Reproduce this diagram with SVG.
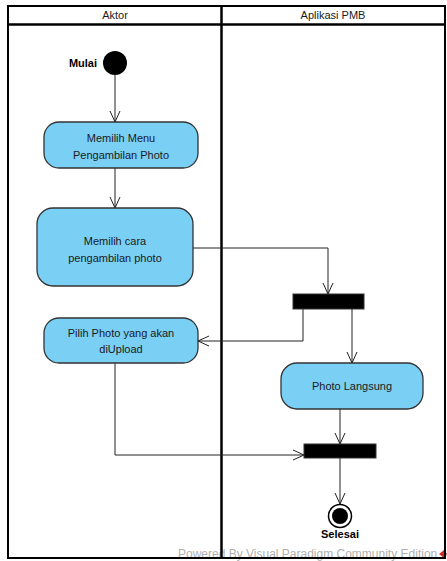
<svg xmlns="http://www.w3.org/2000/svg" width="447" height="561" viewBox="0 0 447 561">
<defs>
<marker id="arr" viewBox="0 0 12 12" refX="11" refY="6" markerWidth="12" markerHeight="12" markerUnits="userSpaceOnUse" orient="auto">
<path d="M0,1 L11,6 L0,11" fill="none" stroke="#222" stroke-width="1"/>
</marker>
<style>
.act{fill:#7ACFF5;stroke:#333;stroke-width:1.3}
.txt{font-family:"Liberation Sans",Arial,sans-serif;font-size:11px;fill:#1a1a1a;text-anchor:middle}
.bold{font-family:"Liberation Sans",Arial,sans-serif;font-size:11px;font-weight:bold;fill:#000}
.bar{fill:#000;stroke:#333}
.edge{fill:none;stroke:#222;stroke-width:1;marker-end:url(#arr)}
</style>
</defs>
<rect width="447" height="561" fill="#fff"/>
<text x="178" y="558" font-family="Liberation Sans,Arial,sans-serif" font-size="12" fill="#b0b0b0">Powered By  Visual Paradigm Community Edition</text>
<path d="M439,554 l5,-4 l3,4 l-3,4z" fill="#d9262b"/>
<g id="swimlanes" fill="none" stroke="#000">
<rect x="8" y="6" width="437" height="552" stroke-width="2"/>
<line x1="8" y1="24.5" x2="445" y2="24.5" stroke-width="2.5"/>
<line x1="221.5" y1="6" x2="221.5" y2="558" stroke-width="2.5"/>
</g>
<text class="txt" x="115" y="19">Aktor</text>
<text class="txt" x="333" y="19">Aplikasi PMB</text>
<g id="connectors">
<line class="edge" x1="115" y1="75" x2="115" y2="122"/>
<line class="edge" x1="115" y1="168" x2="115" y2="208"/>
<polyline class="edge" points="193,248 328,248 328,294"/>
<polyline class="edge" points="303,309 303,341 198,341"/>
<line class="edge" x1="352" y1="309" x2="352" y2="363"/>
<line class="edge" x1="340" y1="409" x2="340" y2="444"/>
<polyline class="edge" points="115,363 115,455 304,455"/>
<line class="edge" x1="340" y1="458" x2="340" y2="504"/>
</g>
<g id="start">
<circle cx="115" cy="63" r="12" fill="#000"/>
<text class="bold" x="97" y="67" text-anchor="end">Mulai</text>
</g>
<g id="memilih-menu">
<rect class="act" x="44" y="122" width="154" height="46" rx="15"/>
<text class="txt" x="121" y="142">Memilih Menu</text>
<text class="txt" x="121" y="159">Pengambilan Photo</text>
</g>
<g id="memilih-cara">
<rect class="act" x="37" y="208" width="156" height="78" rx="16"/>
<text class="txt" x="115" y="245">Memilih cara</text>
<text class="txt" x="115" y="262">pengambilan photo</text>
</g>
<g id="pilih-photo">
<rect class="act" x="44" y="318" width="154" height="45" rx="15"/>
<text class="txt" x="121" y="337">Pilih Photo yang akan</text>
<text class="txt" x="121" y="353">diUpload</text>
</g>
<g id="fork">
<rect class="bar" x="293" y="294" width="71" height="15"/>
</g>
<g id="photo-langsung">
<rect class="act" x="281" y="363" width="142" height="46" rx="16"/>
<text class="txt" x="352" y="390">Photo Langsung</text>
</g>
<g id="join">
<rect class="bar" x="304" y="444" width="72" height="14"/>
</g>
<g id="end">
<circle cx="340" cy="516" r="11.5" fill="#fff" stroke="#000" stroke-width="1.5"/>
<circle cx="340" cy="516" r="8" fill="#000"/>
<text class="bold" x="340" y="538" text-anchor="middle">Selesai</text>
</g>
</svg>
